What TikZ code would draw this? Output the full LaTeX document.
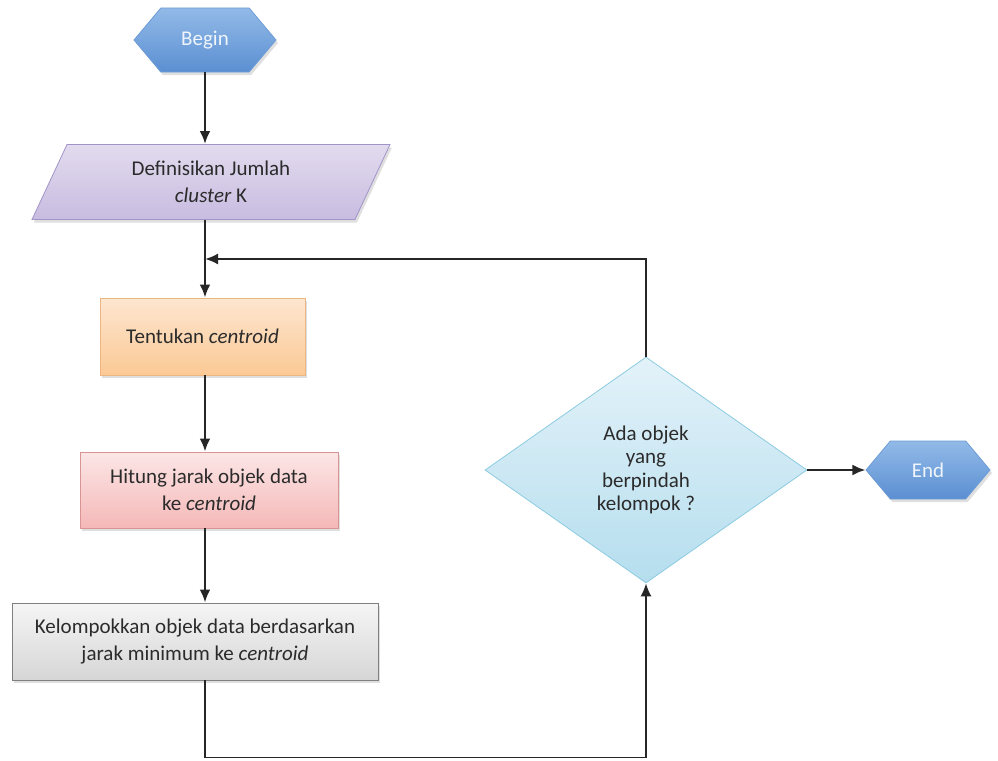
\documentclass[tikz,border=0pt]{standalone}
\usepackage{fontspec}
\setmainfont{Carlito}
\usetikzlibrary{shapes.geometric,shapes.symbols,shadows,arrows.meta}

\definecolor{termtop}{HTML}{92BAE8}
\definecolor{termbot}{HTML}{5B8FD2}
\definecolor{termline}{HTML}{6E9CD6}
\definecolor{inputtop}{HTML}{E2DBEE}
\definecolor{inputbot}{HTML}{C8BCE0}
\definecolor{inputline}{HTML}{A293C8}
\definecolor{oranget}{HTML}{FDE6D0}
\definecolor{orangeb}{HTML}{FBC995}
\definecolor{orangel}{HTML}{EDB582}
\definecolor{pinkt}{HTML}{FCE6E6}
\definecolor{pinkb}{HTML}{F5B8B8}
\definecolor{pinkl}{HTML}{D99594}
\definecolor{grayt}{HTML}{F5F5F5}
\definecolor{grayb}{HTML}{D6D6D6}
\definecolor{grayl}{HTML}{7F7F7F}
\definecolor{decit}{HTML}{E3F2F9}
\definecolor{decib}{HTML}{B5DEEE}
\definecolor{decil}{HTML}{8CCBE0}
\definecolor{txt}{HTML}{2B2B2B}

\begin{document}
\begin{tikzpicture}[x=1pt,y=-1pt,
font=\fontsize{21}{27}\selectfont,
shade/.style={drop shadow={shadow xshift=2pt,shadow yshift=-3pt,opacity=.25}},
terminal/.style={signal,signal to=east and west,signal pointer angle=100,thick,draw=termline,top color=termtop,bottom color=termbot,text=white!85!termtop,inner sep=0pt,shade},
data/.style={trapezium,trapezium left angle=50,trapezium right angle=130,trapezium stretches body,thick,draw=inputline,top color=inputtop,bottom color=inputbot,text=txt,align=center,inner sep=0pt,shade},
process/.style={rectangle,thick,text=txt,align=center,inner sep=0pt,shade},
decision/.style={diamond,thick,draw=decil,top color=decit,bottom color=decib,text=txt,align=center,inner sep=0pt,font=\fontsize{21}{23.5}\selectfont},
arrow/.style={-{Latex[length=13pt,width=11pt]},line width=2.6pt,draw=black!85},
]
\useasboundingbox (0,0) rectangle (998,760);

% Start and input
\node[terminal,minimum width=142,minimum height=64] (mulai) at (205,40) {Begin};
\node[data,minimum width=358,minimum height=75] (jumlah) at (211,182) {Definisikan Jumlah\\\textit{cluster} K};

% Process boxes
\node[process,draw=orangel,top color=oranget,bottom color=orangeb,minimum width=205,minimum height=77] (centroid) at (202.5,336.5) {Tentukan \textit{centroid}};
\node[process,draw=pinkl,top color=pinkt,bottom color=pinkb,minimum width=258,minimum height=76] (jarak) at (209,490) {Hitung jarak objek data\\ke \textit{centroid}};
\node[process,draw=grayl,top color=grayt,bottom color=grayb,minimum width=366,minimum height=77] (kelompok) at (195,641.5) {Kelompokkan objek data berdasarkan\\jarak minimum ke \textit{centroid}};

% Decision and end
\node[decision,minimum width=322,minimum height=226] (pindah) at (646,470) {Ada objek\\yang\\berpindah\\kelompok ?};
\node[terminal,minimum width=124,minimum height=58] (selesai) at (928,470) {End};

\coordinate (gabung) at (205,259);

% Main flow
\draw[arrow] (mulai.south -| gabung) -- (jumlah.north -| gabung);
\draw[arrow] (jumlah.south -| gabung) -- (centroid.north -| gabung);
\draw[arrow] (centroid.south -| gabung) -- (jarak.north -| gabung);
\draw[arrow] (jarak.south -| gabung) -- (kelompok.north -| gabung);

% Loop back
\draw[arrow,line width=1.5pt] (kelompok.south -| gabung) -- ++(0,77) -| (pindah.south);
\draw[arrow,line width=2pt] (pindah.north) |- (gabung);
\draw[arrow] (pindah.east) -- (selesai.west);
\end{tikzpicture}
\end{document}
